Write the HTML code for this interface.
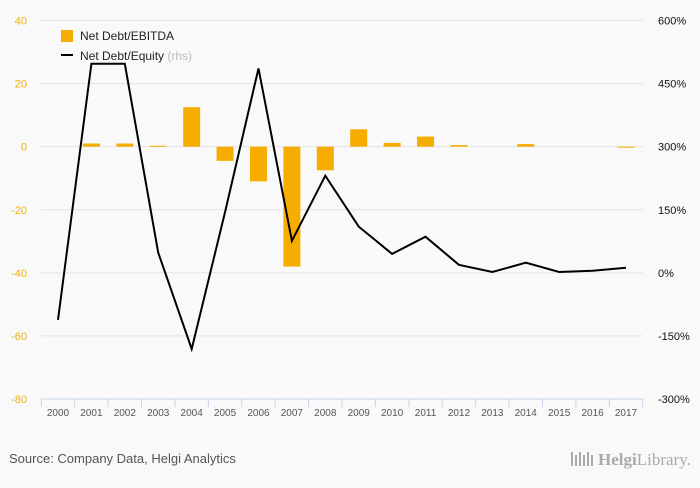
<!DOCTYPE html>
<html><head><meta charset="utf-8"><style>
html,body{margin:0;padding:0;background:#f9f9f9;}
body{width:700px;height:483px;overflow:hidden;font-family:"Liberation Sans",sans-serif;}
</style></head><body>
<svg id="chart" width="700" height="483" xmlns="http://www.w3.org/2000/svg"></svg>
<script>
const categories=["2000","2001","2002","2003","2004","2005","2006","2007","2008","2009","2010","2011","2012","2013","2014","2015","2016","2017"];
const debtEbitda=[0,1,1,0.3,12.5,-4.5,-11,-38,-7.5,5.5,1.2,3.2,0.5,0,0.8,0,0,-0.3];
const debtEquity=[-112,497,497,48,-181,145,486,76,231,110,45,86,19,2,24,2,5,12];
const leftTicks=[40,20,0,-20,-40,-60,-80];
const rightTicks=[600,450,300,150,0,-150,-300];

const NS="http://www.w3.org/2000/svg";
const svg=document.getElementById('chart');
const L=41.3,R=642.7,T=20.5,B=399;
const band=(R-L)/categories.length;
const xC=i=>L+band*(i+0.5);
const yL=v=>T+(40-v)/120*(B-T);
const yR=v=>T+(600-v)/900*(B-T);
function mk(tag,attrs,parent){const e=document.createElementNS(NS,tag);for(const k in attrs)e.setAttribute(k,attrs[k]);(parent||svg).appendChild(e);return e;}

leftTicks.forEach((t,i)=>{
  const y=yL(t);
  if(t!==-80){const g=mk('line',{x1:L,x2:R,y1:y,y2:y,stroke:'#e3e3e3','stroke-width':1});
  
  }
  const tx=mk('text',{x:27,y:y+4,'text-anchor':'end','font-size':11,fill:'#f5b000'});tx.textContent=t;
  
  
  const rt=mk('text',{x:658,y:y+4,'font-size':11,fill:'#111'});rt.textContent=rightTicks[i]+'%';
  
  
});
const ax=mk('line',{x1:L,x2:R,y1:B,y2:B,stroke:'#c8d2e8','stroke-width':1});


for(let i=0;i<=categories.length;i++){
  const x=L+band*i;
  const tk=mk('line',{x1:x,x2:x,y1:B,y2:B+8,stroke:'#c8d2e8','stroke-width':1});
  
  
}
categories.forEach((c,i)=>{
  const t=mk('text',{x:xC(i),y:416,'text-anchor':'middle','font-size':10,fill:'#555'});t.textContent=c;
  
  
});
debtEbitda.forEach((v,i)=>{
  if(v===0)return;
  const y0=yL(0),y1=yL(v);
  const r=mk('rect',{x:xC(i)-8.5,y:Math.min(y0,y1),width:17,height:Math.max(1,Math.abs(y1-y0)),fill:'#f7ad00'});
  
  
});
const pts=debtEquity.map((v,i)=>xC(i).toFixed(1)+','+yR(v).toFixed(1)).join(' ');
const pl=mk('polyline',{points:pts,fill:'none',stroke:'#000','stroke-width':2,'stroke-linejoin':'miter'});



const lg=mk('g',{});


const s1=mk('rect',{x:61,y:30,width:12,height:12,fill:'#f7ad00'},lg);


const t1=mk('text',{x:80,y:40,'font-size':12,fill:'#222'},lg);t1.textContent='Net Debt/EBITDA';


const s2=mk('line',{x1:61,x2:73,y1:55,y2:55,stroke:'#000','stroke-width':2},lg);


const t2=mk('text',{x:80,y:60,'font-size':12,fill:'#222'},lg);t2.innerHTML='Net Debt/Equity <tspan fill="#bbb">(rhs)</tspan>';



const src=mk('text',{x:9,y:463,'font-size':13,fill:'#555'});src.textContent='Source: Company Data, Helgi Analytics';


const logo=mk('text',{x:598,y:465,'font-size':17,fill:'#aaa','font-family':'Liberation Serif, serif'});logo.innerHTML='<tspan font-weight="bold">Helgi</tspan>Library.';


const icon=mk('g',{},svg);


for(let k=0;k<6;k++){mk('rect',{x:571+k*4,y:452+(k%2)*3,width:2,height:14-(k%2)*3,fill:'#aaa'},icon);}
</script>
</body></html>
